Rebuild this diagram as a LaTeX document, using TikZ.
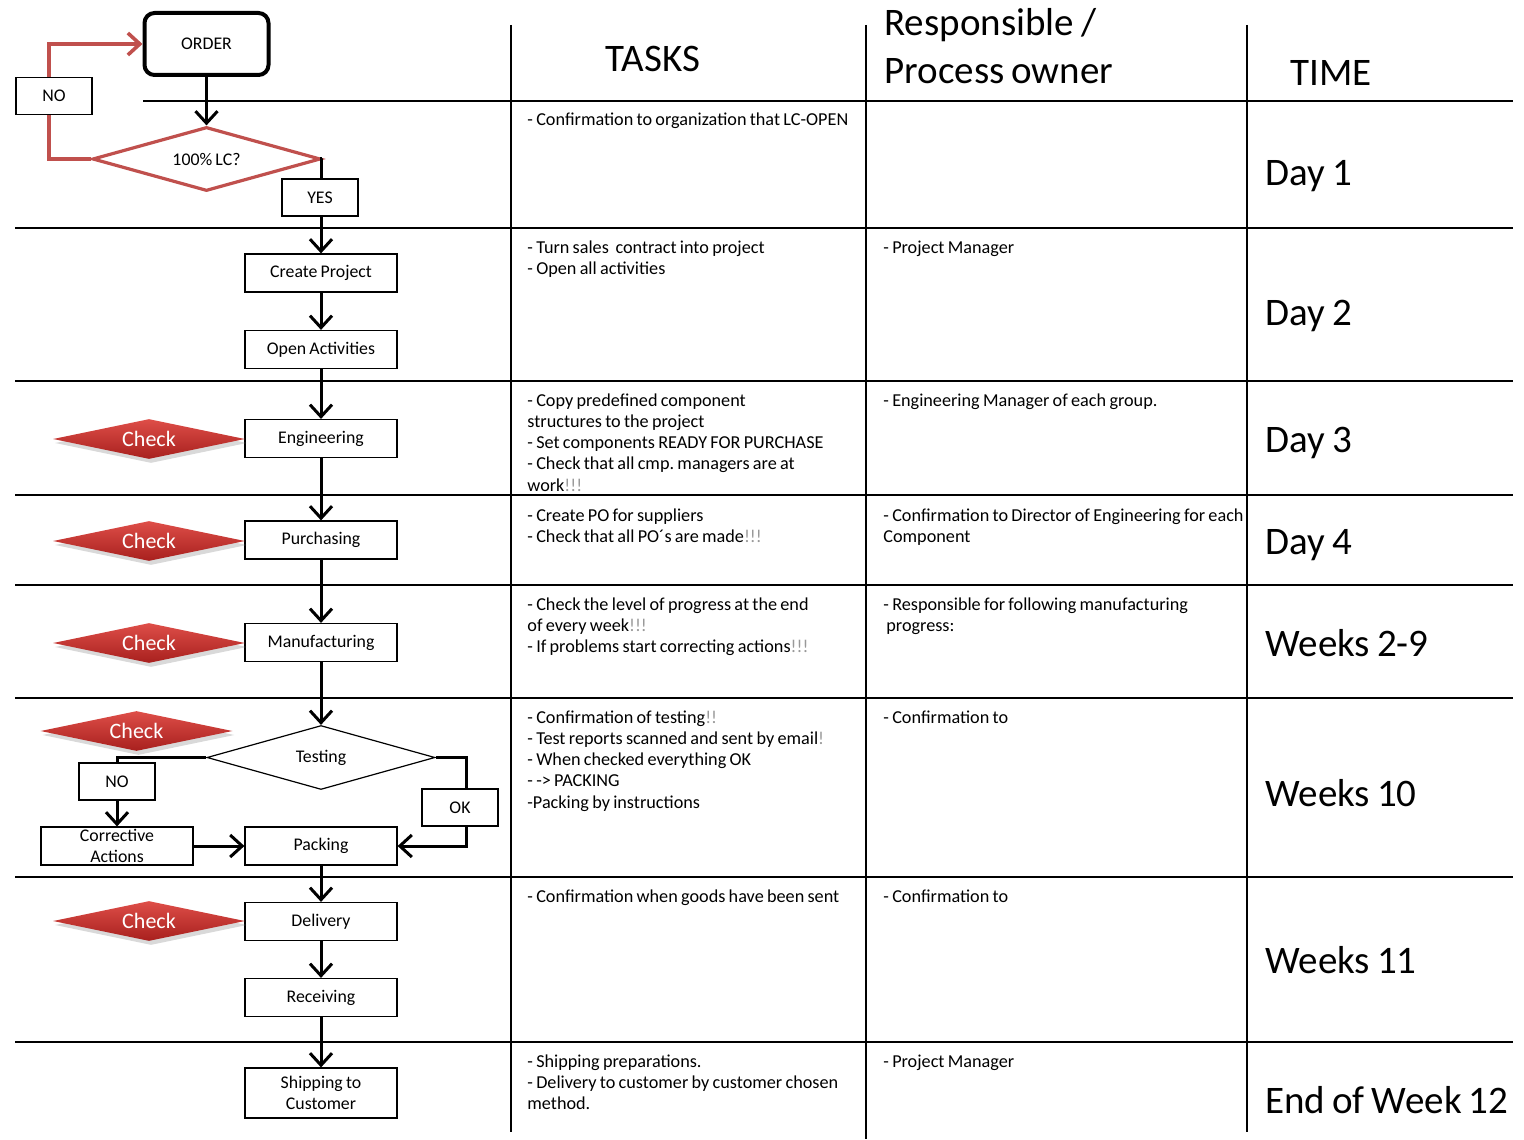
\documentclass[tikz,border=0pt]{standalone}
\usepackage{fontspec}
\setmainfont{Carlito}[WordSpace=0.8]
\usetikzlibrary{shapes.geometric,arrows.meta,shadows}
\definecolor{lcred}{RGB}{192,80,77}
\definecolor{chktop}{RGB}{222,78,72}
\definecolor{chkbot}{RGB}{168,32,30}
\newcommand{\exc}[1]{\textcolor{black!40}{#1}}
\frenchspacing
\begin{document}
\begin{tikzpicture}[x=0.5pt,y=-0.5pt,
  natsp/.style={execute at begin node={\frenchspacing\spaceskip=0pt\xspaceskip=0pt}},
  box/.style={draw, line width=0.6pt, minimum width=76pt, minimum height=19pt, inner sep=0pt,
    font=\fontsize{8.9}{10.5}\selectfont, align=center, fill=white, natsp},
  lab/.style={draw, line width=0.6pt, minimum width=38pt, minimum height=18.5pt, inner sep=0pt,
    font=\fontsize{8.9}{10.5}\selectfont, fill=white},
  flow/.style={line width=1.5pt, -{Straight Barb[length=6pt,width=11pt]}},
  grid/.style={line width=1pt},
  cell/.style={anchor=base west, inner sep=0pt, align=left, text width=190pt,
    font=\fontsize{9.1}{10.65}\selectfont, natsp},
  big/.style={inner sep=0pt, font=\fontsize{19.5}{24}\selectfont},
  chk/.style={diamond, aspect=4.8, minimum width=96pt, minimum height=20pt, inner sep=1pt,
    top color=chktop, bottom color=chkbot, draw=none, text=white,
    font=\fontsize{11}{13}\selectfont,
    drop shadow={opacity=0.3, shadow xshift=1pt, shadow yshift=-2pt}},
  dec/.style={diamond, draw, aspect=3.6, minimum width=114pt, minimum height=32pt, inner sep=1pt,
    font=\fontsize{8.9}{10.5}\selectfont, fill=white}
]
\useasboundingbox (0,0) rectangle (1524,1139);

% table grid
\draw[grid] (143,101) -- (1513,101);
\foreach \yy in {228,381,495,585,698,877,1042}
  \draw[grid] (15,\yy) -- (1513,\yy);
\draw[grid] (511,25) -- (511,1132);
\draw[grid] (866,25) -- (866,1139);
\draw[grid] (1247,25) -- (1247,1132);

% headers
\node[big, anchor=base] (hTasks) at (653,72) {TASKS};
\node[big, anchor=base west, align=left, text width=220pt, natsp] (hResp) at (884,36) {Responsible /\\Process owner};
\node[big, anchor=base west] (hTime) at (1290,86) {TIME};

% flow nodes
\node[draw, rounded corners=5pt, line width=2pt, minimum width=62pt, minimum height=31pt,
  font=\fontsize{8.9}{10.5}\selectfont, fill=white] (order) at (206.5,44) {ORDER};
\node[dec, draw=lcred, line width=1.6pt, aspect=3.6] (lc) at (206.5,159) {100\% LC?};
\node[box] (create) at (321,273) {Create Project};
\node[box] (open) at (321,349.5) {Open Activities};
\node[box] (eng) at (321,438.5) {Engineering};
\node[box] (pur) at (321,540) {Purchasing};
\node[box] (man) at (321,642.5) {Manufacturing};
\node[dec, line width=0.6pt] (test) at (321,757.5) {Testing};
\node[box] (pack) at (321,846) {Packing};
\node[box] (corr) at (117,846) {Corrective\\Actions};
\node[box] (deliv) at (321,921.5) {Delivery};
\node[box] (recv) at (321,997.5) {Receiving};
\node[box, minimum height=25pt] (ship) at (321,1093) {Shipping to\\Customer};

% check markers
\node[chk] (c1) at (149,439) {Check};
\node[chk] (c2) at (149,541) {Check};
\node[chk] (c3) at (149,643) {Check};
\node[chk] (c4) at (136.5,731) {Check};
\node[chk] (c5) at (149,921) {Check};

% connectors
\draw[flow] (order) -- (lc);
\draw[line width=1.8pt, lcred, -{Straight Barb[length=6pt,width=11pt]}] (lc.west) -- ++(-42,0) |- (order.west);
\draw[flow] (lc.east) -| (create.north);
\draw[flow] (create) -- (open);
\draw[flow] (open) -- (eng);
\draw[flow] (eng) -- (pur);
\draw[flow] (pur) -- (man);
\draw[flow] (man) -- (test);
\draw[flow] (test.west) -| (corr.north);
\draw[flow] (test.east) -- ++(31,0) |- (pack.east);
\draw[flow] (corr) -- (pack);
\draw[flow] (pack) -- (deliv);
\draw[flow] (deliv) -- (recv);
\draw[flow] (recv) -- (ship);

% connector labels
\node[lab] (noA) at (54,96) {NO};
\node[lab] (yes) at (320,197.5) {YES};
\node[lab] (noB) at (117,781.5) {NO};
\node[lab] (ok) at (460,807.5) {OK};

% tasks column
\node[cell] (t1) at (527,126) {- Confirmation to organization that LC-OPEN};
\node[cell] (t2) at (527,253) {- Turn sales\ \ contract into project\\- Open all activities};
\node[cell] (t3) at (527,406) {- Copy predefined component\\structures to the project\\- Set components READY FOR PURCHASE\\- Check that all cmp. managers are at\\work\exc{!!!}};
\node[cell] (t4) at (527,521) {- Create PO for suppliers\\- Check that all PO\textasciiacute s are made\exc{!!!}};
\node[cell] (t5) at (527,610) {- Check the level of progress at the end\\of every week\exc{!!!}\\- If problems start correcting actions\exc{!!!}};
\node[cell] (t6) at (527,723) {- Confirmation of testing\exc{!!}\\- Test reports scanned and sent by email\exc{!}\\- When checked everything OK\\- -{}> PACKING\\-Packing by instructions};
\node[cell] (t7) at (527,902) {- Confirmation when goods have been sent};
\node[cell] (t8) at (527,1067) {- Shipping preparations.\\- Delivery to customer by customer chosen\\method.};

% responsible column
\node[cell] (r2) at (883,253) {- Project Manager};
\node[cell] (r3) at (883,406) {- Engineering Manager of each group.};
\node[cell] (r4) at (883,521) {- Confirmation to Director of Engineering for each\\Component};
\node[cell] (r5) at (883,610) {- Responsible for following manufacturing\\\hspace*{1.5pt}progress:};
\node[cell] (r6) at (883,723) {- Confirmation to};
\node[cell] (r7) at (883,902) {- Confirmation to};
\node[cell] (r8) at (883,1067) {- Project Manager};

% time column
\node[big, anchor=base west] (d1) at (1265,186) {Day 1};
\node[big, anchor=base west] (d2) at (1265,325) {Day 2};
\node[big, anchor=base west] (d3) at (1265,452) {Day 3};
\node[big, anchor=base west] (d4) at (1265,554) {Day 4};
\node[big, anchor=base west] (w1) at (1265,656) {Weeks 2-9};
\node[big, anchor=base west] (w2) at (1265,806) {Weeks 10};
\node[big, anchor=base west] (w3) at (1265,973) {Weeks 11};
\node[big, anchor=base west] (w4) at (1265,1113) {End of Week 12};
\end{tikzpicture}
\end{document}
